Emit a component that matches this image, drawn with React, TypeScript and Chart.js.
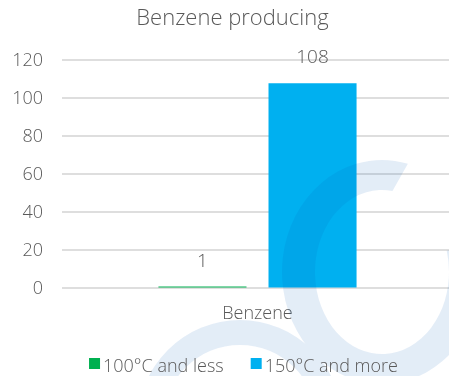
import { useEffect, useRef } from "react";
import { Chart, registerables } from "chart.js";

Chart.register(...registerables);

// Chart content
const titleText = "Benzene producing";
const categories = ["Benzene"];
const seriesNames = ["100°C and less", "150°C and more"];
const lowTempValues = [1];
const highTempValues = [108];
const seriesColors = ["#00B050", "#00B0F0"];
const yMin = 0;
const yMax = 120;
const yStep = 20;

const FONT = "'Segoe UI', 'Open Sans', sans-serif";
const WEIGHT = "300";
const LABEL_SIZE = 18;
const TEXT_COLOR = "#595959";
const GRID_COLOR = "#DEDEDE";

// Faint logo-like swirl painted across the plot
const watermarkPlugin = {
  id: "watermark",
  afterDatasetsDraw(chart: any) {
    const ctx = chart.ctx as CanvasRenderingContext2D;
    ctx.save();
    ctx.fillStyle = "rgba(0, 90, 180, 0.11)";
    ctx.beginPath();
    // open ring, gap towards the upper right
    const cx = 382, cy = 272;
    const a0 = (-15 * Math.PI) / 180;
    const a1 = (285 * Math.PI) / 180;
    ctx.ellipse(cx, cy, 100, 112, 0, a0, a1, false);
    ctx.ellipse(cx, cy, 67, 82, 0, a1 - (6 * Math.PI) / 180, a0, true);
    ctx.closePath();
    // arch along the bottom
    ctx.moveTo(240 - 102, 422);
    ctx.arc(240, 422, 102, Math.PI, 2 * Math.PI, false);
    ctx.arc(240, 422, 77, 2 * Math.PI, Math.PI, true);
    ctx.closePath();
    ctx.fill("nonzero");
    ctx.restore();
  },
};

// Value labels above each bar
const valueLabelPlugin = {
  id: "valueLabels",
  afterDatasetsDraw(chart: any) {
    const ctx = chart.ctx as CanvasRenderingContext2D;
    ctx.save();
    ctx.font = `${WEIGHT} ${LABEL_SIZE + 1}px ${FONT}`;
    ctx.fillStyle = TEXT_COLOR;
    ctx.textAlign = "center";
    ctx.textBaseline = "alphabetic";
    chart.data.datasets.forEach((ds: any, i: number) => {
      const meta = chart.getDatasetMeta(i);
      meta.data.forEach((bar: any, j: number) => {
        ctx.fillText(String(ds.data[j]), bar.x, bar.y - 20);
      });
    });
    ctx.restore();
  },
};

// Legend row with small square swatches
const legendPlugin = {
  id: "squareLegend",
  afterDraw(chart: any) {
    const ctx = chart.ctx as CanvasRenderingContext2D;
    ctx.save();
    ctx.font = `${WEIGHT} ${LABEL_SIZE}px ${FONT}`;
    const box = 11;
    const gap = 3;
    const itemGap = 27;
    const widths = seriesNames.map((n) => ctx.measureText(n).width);
    const total =
      widths.reduce((s, w) => s + box + gap + w, 0) + itemGap * (seriesNames.length - 1);
    let x = 243.5 - total / 2;
    const baseline = 372;
    seriesNames.forEach((name, i) => {
      ctx.fillStyle = seriesColors[i];
      ctx.fillRect(x, baseline - 14, box, box);
      x += box + gap;
      ctx.fillStyle = TEXT_COLOR;
      ctx.textAlign = "left";
      ctx.textBaseline = "alphabetic";
      ctx.fillText(name, x, baseline);
      x += widths[i] + itemGap;
    });
    ctx.restore();
  },
};

export default function App() {
  const canvasRef = useRef<HTMLCanvasElement | null>(null);

  useEffect(() => {
    if (!canvasRef.current) return;
    const chart = new Chart(canvasRef.current, {
      type: "bar",
      data: {
        labels: categories,
        datasets: [
          {
            label: seriesNames[0],
            data: lowTempValues,
            backgroundColor: seriesColors[0],
            barPercentage: 0.8,
            categoryPercentage: 0.563,
          },
          {
            label: seriesNames[1],
            data: highTempValues,
            backgroundColor: seriesColors[1],
            barPercentage: 0.8,
            categoryPercentage: 0.563,
          },
        ],
      },
      options: {
        animation: false,
        responsive: true,
        maintainAspectRatio: false,
        layout: { padding: { left: 12, right: 0, top: 0, bottom: 36 } },
        plugins: {
          legend: { display: false },
          tooltip: { enabled: false },
          title: {
            display: true,
            text: titleText,
            color: TEXT_COLOR,
            font: { family: FONT, size: 22, weight: WEIGHT },
            padding: { top: 6, bottom: 28 },
          },
        },
        scales: {
          x: {
            grid: { display: false, drawTicks: false },
            border: { display: false },
            ticks: {
              color: TEXT_COLOR,
              font: { family: FONT, size: LABEL_SIZE, weight: WEIGHT },
              padding: 15,
            },
          },
          y: {
            min: yMin,
            max: yMax,
            grid: { color: GRID_COLOR, lineWidth: 2, drawTicks: false },
            border: { display: false },
            ticks: {
              stepSize: yStep,
              color: TEXT_COLOR,
              font: { family: FONT, size: LABEL_SIZE, weight: WEIGHT },
              padding: 19,
            },
            afterFit(scale: any) {
              scale.width = 50;
            },
          },
        },
      },
      plugins: [watermarkPlugin, valueLabelPlugin, legendPlugin],
    });
    return () => chart.destroy();
  }, []);

  return (
    <div
      style={{
        position: "fixed",
        left: 0,
        top: 0,
        width: 449,
        height: 376,
        overflow: "hidden",
        background: "#fff",
      }}
    >
      <div style={{ position: "relative", width: 453, height: 376 }}>
        <canvas ref={canvasRef} />
      </div>
    </div>
  );
}
